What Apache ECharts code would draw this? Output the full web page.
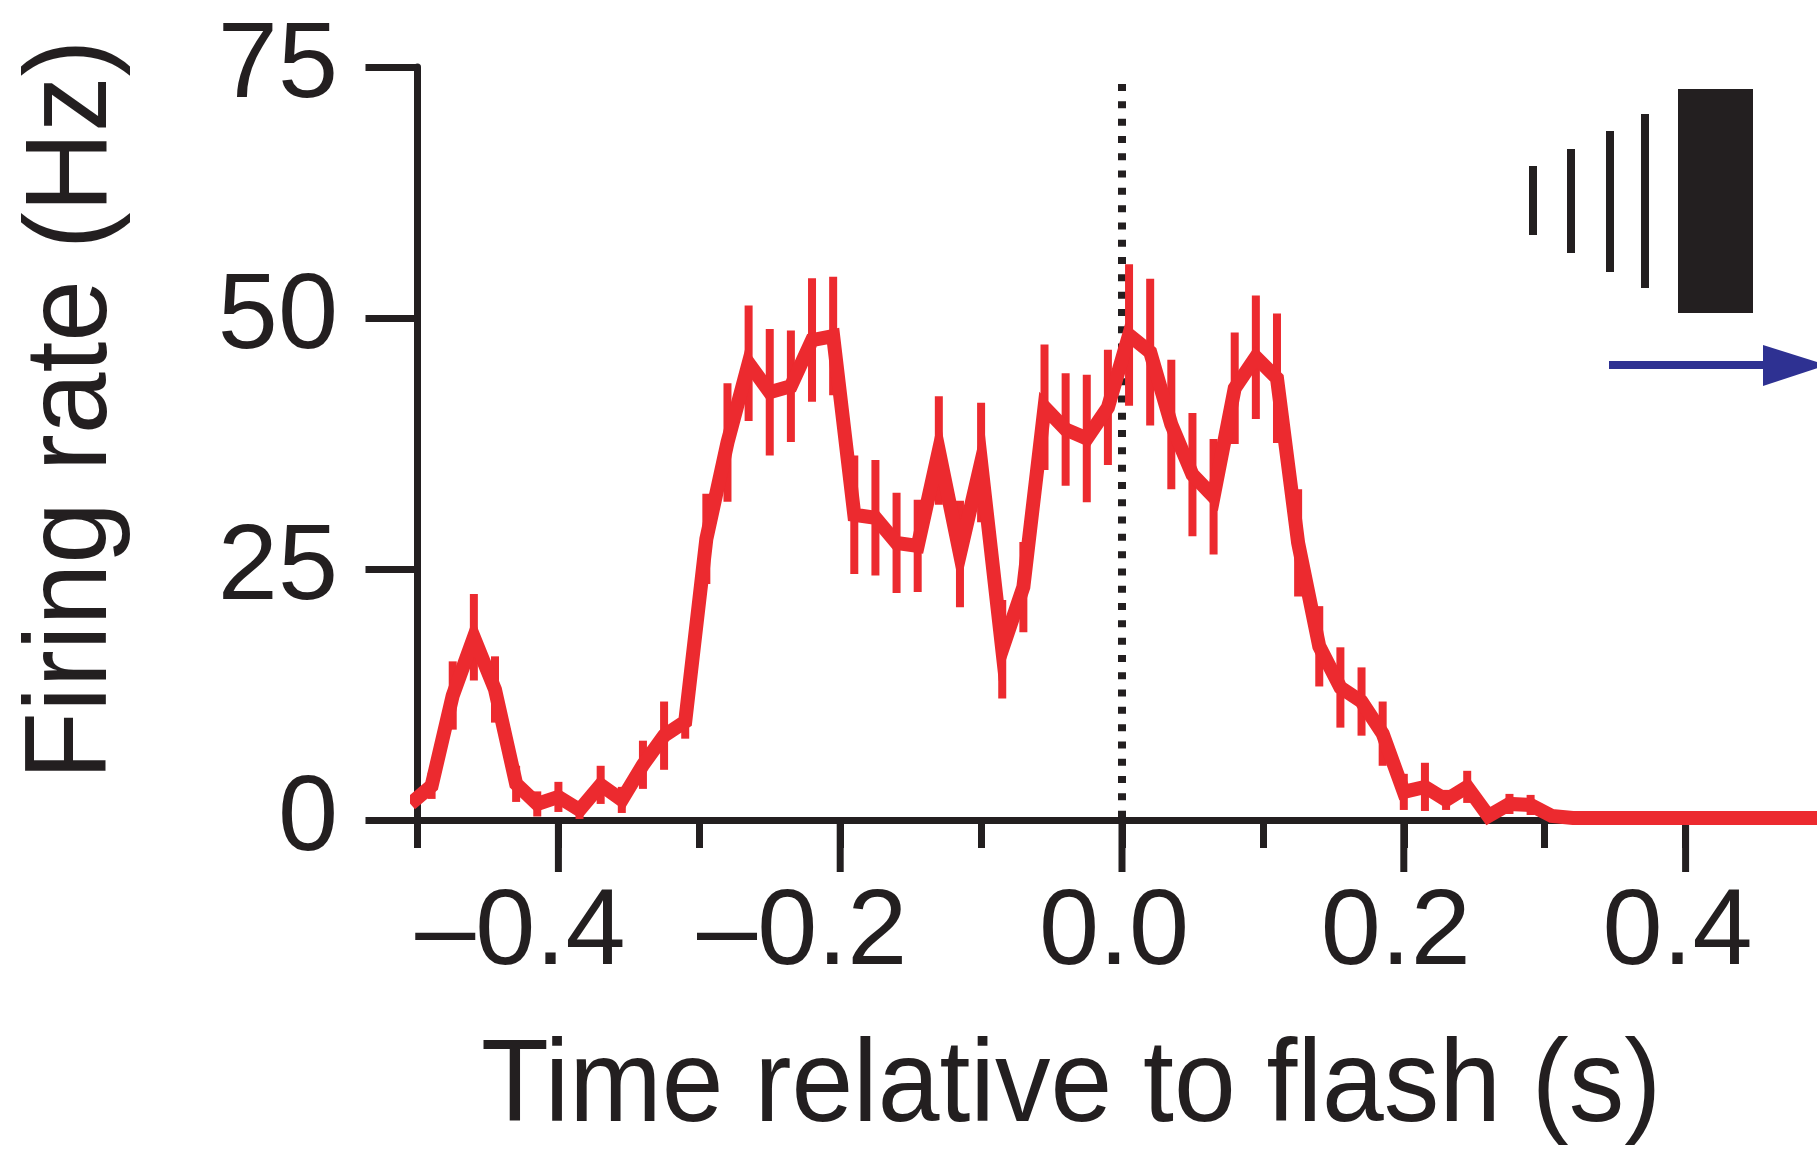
<!DOCTYPE html>
<html>
<head>
<meta charset="utf-8">
<title>Firing rate vs flash</title>
<script src="https://cdn.jsdelivr.net/npm/echarts@6/dist/echarts.min.js"></script>
<style>
html, body { margin: 0; padding: 0; background: #fff; }
#main { width: 1817px; height: 1153px; }
</style>
</head>
<body>
<div id="main"></div>
<script>
// 时间轴（s），每 15 ms 一个点
var times = [-0.505, -0.49, -0.475, -0.46, -0.445, -0.43, -0.415, -0.4, -0.385, -0.37,
	-0.355, -0.34, -0.325, -0.31, -0.295, -0.28, -0.265, -0.25, -0.235, -0.22,
	-0.205, -0.19, -0.175, -0.16, -0.145, -0.13, -0.115, -0.1, -0.085, -0.07,
	-0.055, -0.04, -0.025, -0.01, 0.005, 0.02, 0.035, 0.05, 0.065, 0.08,
	0.095, 0.11, 0.125, 0.14, 0.155, 0.17, 0.185, 0.2, 0.215, 0.23,
	0.245, 0.26, 0.275, 0.29, 0.305, 0.32, 0.335, 0.35, 0.365, 0.38,
	0.395, 0.41, 0.425, 0.44, 0.455, 0.47, 0.485, 0.5, 0.515];
// 放电频率（Hz）
var rates = [1.6, 3.4, 12.4, 18.2, 13.0, 3.6, 1.6, 2.3, 1.0, 3.5,
	2.0, 5.5, 8.4, 9.8, 28.0, 37.6, 45.5, 42.6, 43.2, 47.8,
	48.2, 30.4, 30.1, 27.6, 27.3, 36.8, 26.5, 35.6, 17.0, 23.2,
	41.1, 38.9, 38.0, 41.1, 48.3, 46.6, 39.4, 34.4, 32.2, 43.0,
	46.1, 44.0, 27.6, 17.3, 13.2, 11.8, 8.6, 2.8, 3.3, 2.0,
	3.3, 0.4, 1.6, 1.5, 0.4, 0.2, 0.2, 0.2, 0.2, 0.2,
	0.2, 0.2, 0.2, 0.2, 0.2, 0.2, 0.2, 0.2, 0.2];
// 误差（±，Hz）
var errs = [0.8, 1.3, 3.4, 4.3, 3.3, 1.8, 1.25, 1.5, 0.9, 1.9,
	1.3, 2.4, 3.4, 1.7, 4.5, 5.9, 5.75, 6.3, 5.55, 6.15,
	5.9, 5.9, 5.75, 5.0, 4.6, 5.4, 5.3, 5.95, 4.9, 4.5,
	6.25, 5.6, 6.35, 5.75, 7.05, 7.3, 6.45, 6.15, 5.75, 5.55,
	6.15, 6.45, 5.35, 4.0, 4.0, 3.4, 3.2, 1.8, 2.4, 1.0,
	1.6, 0.4, 1.0, 1.0, 0.4, 0.5, 0.5, 0.5, 0.5, 0.5,
	0.5, 0.5, 0.5, 0.5, 0.5, 0.5, 0.5, 0.5, 0.5];
var majorTicks = [-0.4, -0.2, 0, 0.2, 0.4];
var flashTop = 73.3;

var red = '#ec2a2f';
var ink = '#231f20';
var blue = '#2e3192';
var font = 'Liberation Sans, Arial, Helvetica, sans-serif';

var lineData = [];
var errData = [];
for (var i = 0; i < times.length; i++) {
	lineData.push([times[i], rates[i]]);
	errData.push([times[i], rates[i], errs[i]]);
}

var chart = echarts.init(document.getElementById('main'), null, { renderer: 'canvas' });

// 误差线
function renderErr(params, api) {
	var t = api.value(0), v = api.value(1), e = api.value(2);
	var hi = api.coord([t, v + e]);
	var lo = api.coord([t, v - e]);
	return {
		type: 'rect',
		shape: { x: hi[0] - 4, y: hi[1], width: 8, height: lo[1] - hi[1] },
		style: { fill: red }
	};
}

// 长刻度（有标签的位置）
function renderTick(params, api) {
	var p = api.coord([api.value(0), 0]);
	return {
		type: 'line',
		shape: { x1: p[0], y1: p[1], x2: p[0], y2: p[1] + 52 },
		style: { stroke: ink, lineWidth: 7 }
	};
}

var option = {
	animation: false,
	backgroundColor: '#fff',
	grid: {
		left: 417.5,
		right: -9.5,
		top: 67,
		bottom: 333,
		containLabel: false,
		outerBoundsMode: 'none'
	},
	xAxis: {
		type: 'value',
		min: -0.5,
		max: 0.5,
		interval: 0.1,
		splitLine: { show: false },
		axisLine: { show: true, onZero: false, lineStyle: { color: ink, width: 7 } },
		axisTick: { show: true, length: 28, lineStyle: { color: ink, width: 7 } },
		axisLabel: {
			margin: 60,
			color: ink,
			fontSize: 108,
			fontFamily: font,
			showMinLabel: true,
			showMaxLabel: true,
			formatter: function (v) {
				var k = Math.round(v * 10);
				if (k % 2 !== 0 || Math.abs(k) > 4) return '';
				if (k < 0) return '{n|\u2013' + Math.abs(k / 10).toFixed(1) + '}';
				return '{p|' + (k / 10).toFixed(1) + '}';
			},
			rich: {
				p: { fontSize: 108, fontFamily: font, color: ink, padding: [0, 16, 0, 0] },
				n: { fontSize: 108, fontFamily: font, color: ink, padding: [0, 76, 0, 0] }
			}
		}
	},
	yAxis: {
		type: 'value',
		min: 0,
		max: 75,
		interval: 25,
		splitLine: { show: false },
		axisLine: { show: true, onZero: false, lineStyle: { color: ink, width: 7 } },
		axisTick: { show: true, length: 52, lineStyle: { color: ink, width: 7 } },
		axisLabel: {
			margin: 79.5,
			color: ink,
			fontSize: 108,
			fontFamily: font,
			padding: [0, 0, 10, 0]
		}
	},
	series: [
		{
			type: 'line',
			data: [[0, flashTop], [0, 0]],
			showSymbol: false,
			silent: true,
			z: 1,
			lineStyle: { color: ink, width: 8, type: [7, 10.3], cap: 'butt' }
		},
		{
			type: 'custom',
			data: majorTicks.map(function (t) { return [t, 0]; }),
			renderItem: renderTick,
			clip: false,
			silent: true,
			z: 1
		},
		{
			type: 'custom',
			data: errData,
			renderItem: renderErr,
			encode: { x: 0, y: 1 },
			clip: true,
			z: 3
		},
		{
			type: 'line',
			data: lineData,
			showSymbol: false,
			clip: true,
			z: 4,
			lineStyle: { color: red, width: 14, join: 'miter' }
		}
	],
	graphic: [
		{
			type: 'text',
			x: 74,
			y: 409.6,
			rotation: Math.PI / 2,
			scaleX: 0.957,
			style: {
				text: 'Firing rate (Hz)',
				x: 0, y: 0,
				fill: ink,
				font: '116px ' + font,
				textAlign: 'center',
				textVerticalAlign: 'middle'
			}
		},
		{
			type: 'text',
			x: 481,
			y: 1089,
			scaleX: 0.957,
			style: {
				text: 'Time relative to flash (s)',
				x: 0,
				y: 0,
				fill: ink,
				font: '116px ' + font,
				textAlign: 'left',
				textVerticalAlign: 'middle'
			}
		},
		// 右上角示意图
		{ type: 'rect', shape: { x: 1529, y: 166, width: 8, height: 69 }, style: { fill: ink } },
		{ type: 'rect', shape: { x: 1567, y: 149, width: 8, height: 104 }, style: { fill: ink } },
		{ type: 'rect', shape: { x: 1606, y: 131, width: 8, height: 141 }, style: { fill: ink } },
		{ type: 'rect', shape: { x: 1641, y: 114, width: 8, height: 174 }, style: { fill: ink } },
		{ type: 'rect', shape: { x: 1678, y: 89, width: 75, height: 224 }, style: { fill: ink } },
		{ type: 'rect', shape: { x: 1609, y: 361, width: 156, height: 8 }, style: { fill: blue } },
		{ type: 'polygon', shape: { points: [[1763, 345], [1827, 365], [1763, 386]] }, style: { fill: blue } }
	]
};

chart.setOption(option);
</script>
</body>
</html>
